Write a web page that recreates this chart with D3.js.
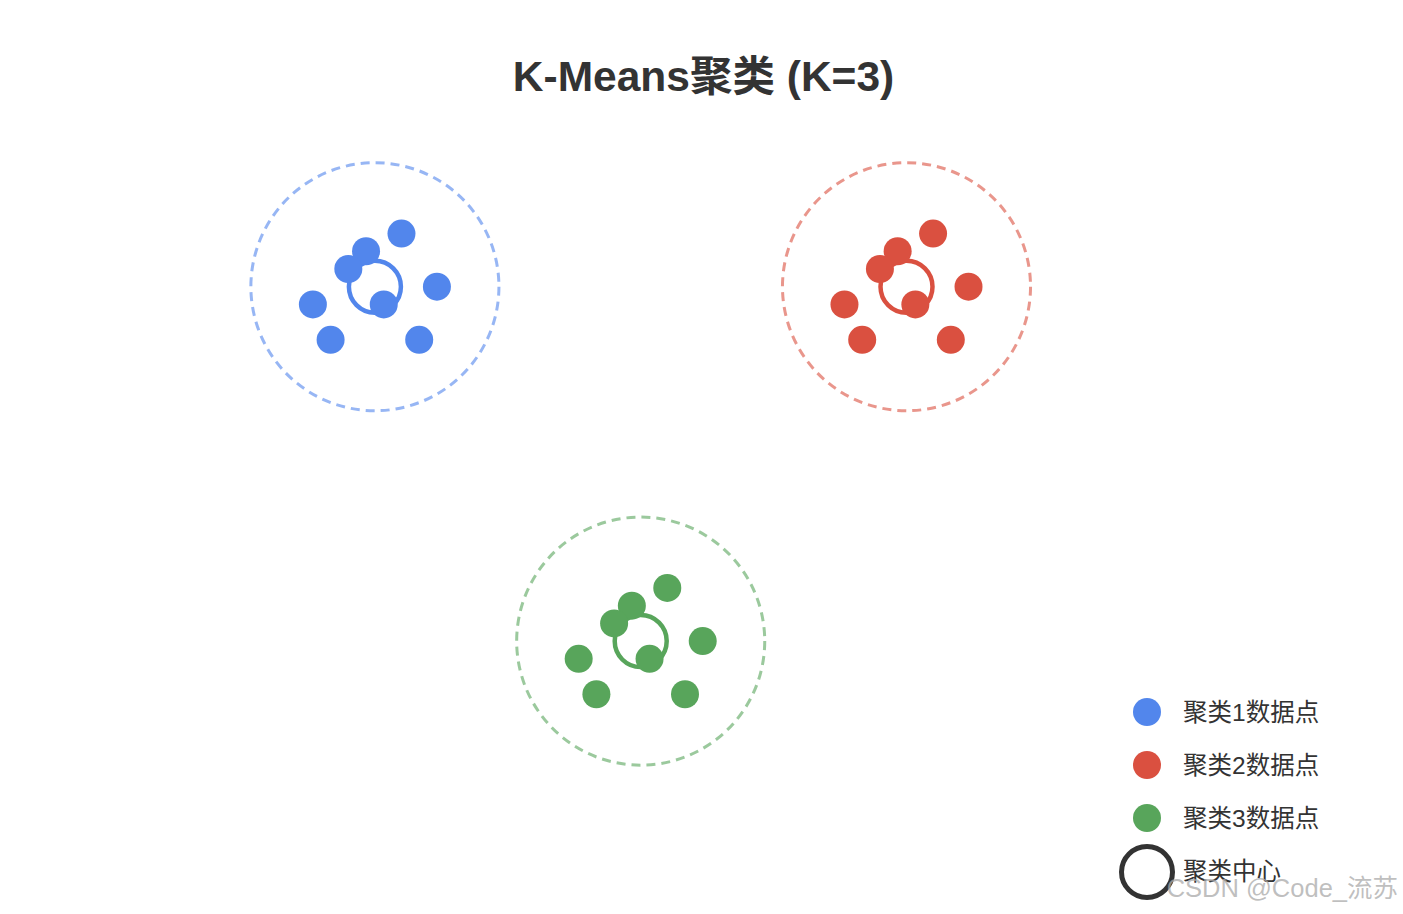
<!DOCTYPE html>
<html>
<head>
<meta charset="utf-8">
<script src="https://cdn.jsdelivr.net/npm/d3@7"></script>
<style>
  body { margin: 0; background: #fff; }
  svg text { font-family: "Liberation Sans", Arial, "Noto Sans CJK SC", sans-serif; }
</style>
</head>
<body>
<div id="container"></div>
<script>
/* DATA */
const clusterNames = ["聚类1数据点", "聚类2数据点", "聚类3数据点"]
const clusterColors = ["#5286ec", "#da5040", "#58a55b"]
const centroidX = [2, 8, 5]
const centroidY = [2, 2, 6]
const pointsX = [
  [2.3, 1.9, 1.7, 2.7, 1.3, 2.1, 1.5, 2.5],
  [8.3, 7.9, 7.7, 8.7, 7.3, 8.1, 7.5, 8.5],
  [5.3, 4.9, 4.7, 5.7, 4.3, 5.1, 4.5, 5.5]
]
const pointsY = [
  [1.4, 1.6, 1.8, 2.0, 2.2, 2.2, 2.6, 2.6],
  [1.4, 1.6, 1.8, 2.0, 2.2, 2.2, 2.6, 2.6],
  [5.4, 5.6, 5.8, 6.0, 6.2, 6.2, 6.6, 6.6]
]
const clusterRadius = 1.4
const centerLabel = "聚类中心"

/* CONSTANTS */
const width = 1403, height = 914

const svg = d3.select("#container")
  .append("svg")
  .attr("width", width)
  .attr("height", height)

// same pixels per unit on both axes
const xScale = d3.scaleLinear().domain([0, 10]).range([197.7, 1083.7])
const yScale = d3.scaleLinear().domain([0, 10]).range([109.5, 995.5])
const rPx = xScale(clusterRadius) - xScale(0)

// title
svg.append("text")
  .attr("x", width / 2 + 2)
  .attr("y", 91)
  .attr("text-anchor", "middle")
  .attr("font-size", "42.5px")
  .attr("font-weight", "bold")
  .attr("fill", "#333")
  .text("K-Means聚类 (K=3)")

clusterNames.forEach((name, i) => {
  const g = svg.append("g").attr("class", "cluster")

  // dashed boundary
  g.append("circle")
    .attr("cx", xScale(centroidX[i]))
    .attr("cy", yScale(centroidY[i]))
    .attr("r", rPx)
    .attr("fill", "none")
    .attr("stroke", clusterColors[i])
    .attr("stroke-opacity", 0.6)
    .attr("stroke-width", 3)
    .attr("stroke-dasharray", "9,6")

  // centroid ring
  g.append("circle")
    .attr("cx", xScale(centroidX[i]))
    .attr("cy", yScale(centroidY[i]))
    .attr("r", 26)
    .attr("fill", "none")
    .attr("stroke", clusterColors[i])
    .attr("stroke-width", 4.5)

  const pts = pointsX[i].map((x, j) => ({ x: x, y: pointsY[i][j] }))
  g.selectAll("circle.data")
    .data(pts)
    .join("circle")
    .attr("class", "data")
    .attr("cx", d => xScale(d.x))
    .attr("cy", d => yScale(d.y))
    .attr("r", 14)
    .attr("fill", clusterColors[i])
})

// legend
const legend = svg.append("g").attr("transform", "translate(1147, 712)")
const rowH = 53

clusterNames.forEach((name, i) => {
  legend.append("circle")
    .attr("cx", 0).attr("cy", i * rowH)
    .attr("r", 14)
    .attr("fill", clusterColors[i])
  legend.append("text")
    .attr("x", 36).attr("y", i * rowH)
    .attr("dy", "0.36em")
    .attr("font-size", "24.5px")
    .attr("fill", "#333")
    .text(name)
})

legend.append("circle")
  .attr("cx", 0).attr("cy", 3 * rowH + 1)
  .attr("r", 25.5)
  .attr("fill", "none")
  .attr("stroke", "#333")
  .attr("stroke-width", 5)
legend.append("text")
  .attr("x", 36).attr("y", 3 * rowH)
  .attr("dy", "0.36em")
  .attr("font-size", "24.5px")
  .attr("fill", "#333")
  .text(centerLabel)

// watermark (sits over the last legend label, as in the source image)
svg.append("text")
  .attr("x", 1398)
  .attr("y", 897)
  .attr("text-anchor", "end")
  .attr("font-size", "25.5px")
  .attr("fill", "#aaa")
  .attr("fill-opacity", 0.75)
  .text("CSDN @Code_流苏")
</script>
</body>
</html>
